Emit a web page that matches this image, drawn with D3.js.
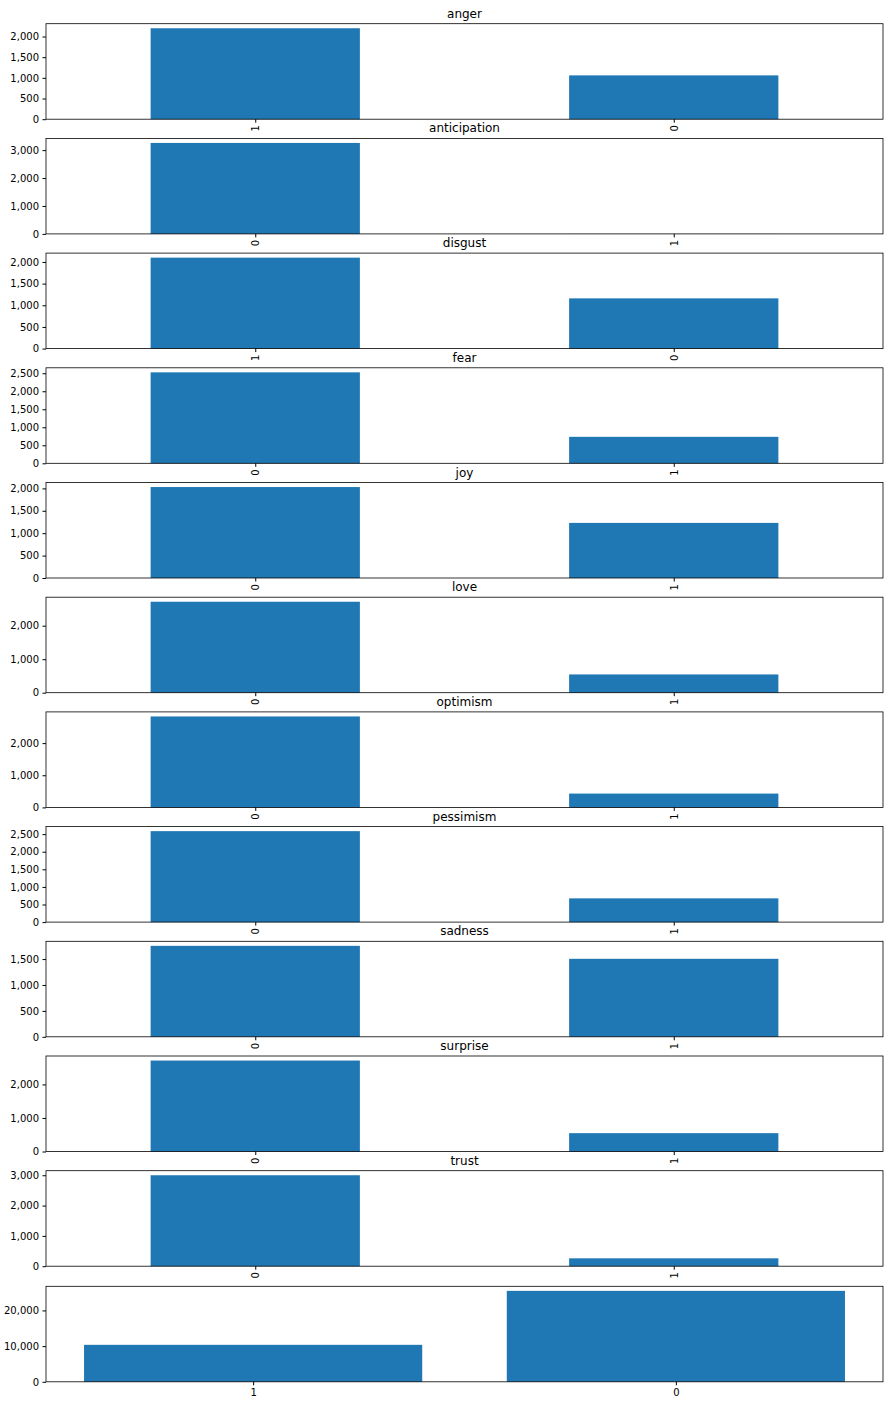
<!DOCTYPE html>
<html><head><meta charset="utf-8">
<script src="https://cdn.jsdelivr.net/npm/d3@7"></script>
<style>body{margin:0;background:#fff}svg{font-family:"DejaVu Sans",sans-serif}</style>
</head><body>
<script>
const titles = ["anger","anticipation","disgust","fear","joy","love","optimism","pessimism","sadness","surprise","trust",""];
const labels = [["1","0"],["0","1"],["1","0"],["0","1"],["0","1"],["0","1"],["0","1"],["0","1"],["0","1"],["0","1"],["0","1"],["1","0"]];
const values = [[2200,1060],[3257,2],[2100,1160],[2525,735],[2030,1230],[2715,545],[2830,430],[2585,675],[1755,1505],[2713,547],[3000,260],[10360,25490]];

const W = 890, H = 1406, L = 46, R = 883;
const svg = d3.select("body").append("svg").attr("width", W).attr("height", H);
const tops = d3.range(11).map(i => 23.7 + i * 114.7);
tops.push(1286.3);
const ah = 95.5;

titles.forEach((t, i) => {
  const last = i === 11;
  const top = tops[i], bot = top + ah;
  const x = d3.scaleLinear().domain(last ? [-0.49, 1.49] : [-0.5, 1.5]).range([L, R]);
  const ymax = d3.max(values[i]) * 1.05;
  const y = d3.scaleLinear().domain([0, ymax]).range([bot, top]);
  const bw = last ? 0.8 : 0.5;
  const g = svg.append("g");
  g.selectAll("rect").data(values[i]).join("rect")
    .attr("x", (d, j) => x(j - bw / 2)).attr("width", (d, j) => x(j + bw / 2) - x(j - bw / 2))
    .attr("y", d => y(d)).attr("height", d => bot - y(d)).attr("fill", "#1f77b4");
  const ya = g.append("g").attr("transform", `translate(${L},0)`)
    .call(d3.axisLeft(y).ticks(last ? 3 : (ymax < 2000 ? 4 : 4)).tickSize(3.5).tickPadding(3.5));
  ya.select(".domain").remove();
  ya.selectAll("text").attr("font-size", 10).attr("fill", "#000").attr("font-family", "DejaVu Sans");
  const xa = g.append("g").attr("transform", `translate(0,${bot})`)
    .call(d3.axisBottom(x).tickValues([0, 1]).tickFormat(j => labels[i][j]).tickSize(3.5).tickPadding(3.5));
  xa.select(".domain").remove();
  xa.selectAll("text").attr("font-size", 10).attr("fill", "#000").attr("font-family", "DejaVu Sans");
  if (!last) {
    xa.selectAll("text").attr("transform", "rotate(-90)").attr("text-anchor", "end")
      .attr("x", -6).attr("y", 0).attr("dy", "0.35em");
  }
  g.append("rect").attr("x", L).attr("y", top).attr("width", R - L).attr("height", ah)
    .attr("fill", "none").attr("stroke", "#000").attr("stroke-width", 0.8);
  if (t) g.append("text").attr("x", (L + R) / 2).attr("y", top - 6).attr("text-anchor", "middle")
    .attr("font-size", 12).text(t);
});
</script>
</body></html>
